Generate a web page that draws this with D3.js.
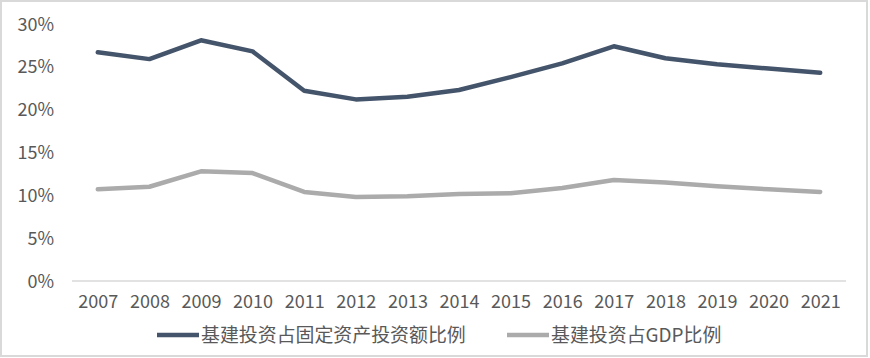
<!DOCTYPE html>
<html><head><meta charset="utf-8">
<script src="https://cdn.jsdelivr.net/npm/d3@7"></script>
<style>body{margin:0;background:#fff}svg{display:block}text{font-family:"Noto Sans CJK SC","Noto Sans",sans-serif;fill:#595959}</style>
</head><body>
<svg id="c" width="870" height="358"></svg>
<script>
const years = ["2007","2008","2009","2010","2011","2012","2013","2014","2015","2016","2017","2018","2019","2020","2021"];
const fixedAssetShare = [26.7,25.9,28.1,26.8,22.2,21.2,21.5,22.3,23.8,25.4,27.4,26.0,25.3,24.8,24.3];
const gdpShare = [10.7,11.0,12.8,12.6,10.4,9.8,9.9,10.15,10.25,10.85,11.8,11.5,11.05,10.7,10.4];
const yTicks = [0,5,10,15,20,25,30];
const seriesNames = ["基建投资占固定资产投资额比例","基建投资占GDP比例"];
const colors = ["#44546A","#ABABAB"];

const svg = d3.select("#c");
svg.append("rect").attr("x",1).attr("y",1).attr("width",866).attr("height",355)
  .attr("fill","#fff").attr("stroke","#D9D9D9").attr("stroke-width",2);

const x = d3.scalePoint().domain(years).range([72,846]).padding(0.5);
const y = d3.scaleLinear().domain([0,30]).range([281,24]);

svg.append("line").attr("x1",72).attr("x2",846).attr("y1",y(0)).attr("y2",y(0))
  .attr("stroke","#D9D9D9").attr("stroke-width",1.3);

const ya = svg.append("g").attr("transform","translate(54,0)")
  .call(d3.axisLeft(y).tickValues(yTicks).tickSize(0).tickPadding(0).tickFormat(d=>d+"%"));
ya.select(".domain").remove();
ya.selectAll("text").style("font-size","18px").attr("fill","#595959").attr("dy","0.34em");

const xa = svg.append("g").attr("transform","translate(0,"+(y(0))+")")
  .call(d3.axisBottom(x).tickSize(0).tickPadding(14));
xa.select(".domain").remove();
xa.selectAll("text").style("font-size","18px").attr("fill","#595959");

const line = d3.line().x((d,i)=>x(years[i])).y(d=>y(d));
[fixedAssetShare,gdpShare].forEach((s,k)=>{
  svg.append("path").datum(s).attr("d",line).attr("fill","none")
    .attr("stroke",colors[k]).attr("stroke-width",4.5)
    .attr("stroke-linejoin","round").attr("stroke-linecap","round");
});

const legX = [157,507];
const t0 = svg.append("text").attr("x",legX[0]+44).attr("y",335).attr("dy","0.36em")
  .style("font-size","20px").text(seriesNames[0]);
const w = t0.node().getComputedTextLength();
const fs = Math.min(20, 20*265/w);
t0.style("font-size",fs+"px");
seriesNames.forEach((n,k)=>{
  svg.append("line").attr("x1",legX[k]).attr("x2",legX[k]+42).attr("y1",335).attr("y2",335)
    .attr("stroke",colors[k]).attr("stroke-width",4.5);
  if(k>0) svg.append("text").attr("x",legX[k]+44).attr("y",335).attr("dy","0.36em")
    .style("font-size",fs+"px").text(n);
});
</script>
</body></html>
